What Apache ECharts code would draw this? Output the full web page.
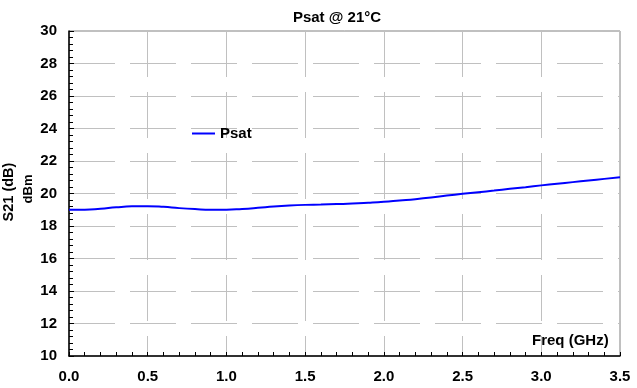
<!DOCTYPE html>
<html>
<head>
<meta charset="utf-8">
<script src="https://cdn.jsdelivr.net/npm/echarts@6/dist/echarts.min.js"></script>
<style>
    html, body { margin: 0; padding: 0; background: #fff; }
    #chart { width: 637px; height: 388px; }
</style>
</head>
<body>
<div id="chart"></div>
<script>
// Psat vs frequency (GHz, dBm)
var freq = [0.0, 0.1, 0.2, 0.3, 0.4, 0.5, 0.6, 0.7, 0.8, 0.9, 1.0, 1.1, 1.2, 1.3, 1.4, 1.5, 1.6, 1.7,
    1.8, 1.9, 2.0, 2.1, 2.2, 2.3, 2.4, 2.5, 2.6, 2.7, 2.8, 2.9, 3.0, 3.1, 3.2, 3.3, 3.4, 3.5];
var psat = [19.0, 19.0, 19.06, 19.15, 19.21, 19.22, 19.18, 19.1, 19.04, 19.0, 19.0, 19.05, 19.12, 19.2, 19.26, 19.3, 19.32, 19.35,
    19.38, 19.43, 19.49, 19.57, 19.65, 19.75, 19.87, 19.98, 20.08, 20.18, 20.29, 20.39, 20.5, 20.6, 20.7, 20.8, 20.9, 21.0];

var xTicks = [0, 0.5, 1.0, 1.5, 2.0, 2.5, 3.0, 3.5];
var yTicks = [10, 12, 14, 16, 18, 20, 22, 24, 26, 28, 30];

var font = 'Liberation Sans, Arial, sans-serif';

var chart = echarts.init(document.getElementById('chart'));

var points = freq.map(function (f, i) { return [f, psat[i]]; });

var gridDash = [46, 15];

option = {
    animation: false,
    backgroundColor: '#fff',
    textStyle: { fontFamily: font },
    title: {
        text: 'Psat @ 21°C',
        left: 332,
        top: 5,
        textAlign: 'center',
        textStyle: { fontFamily: font, fontWeight: 'bold', fontSize: 15, color: '#000' }
    },
    legend: {
        data: ['Psat'],
        left: 187,
        top: 121,
        icon: 'rect',
        itemWidth: 23,
        itemHeight: 2,
        textStyle: { fontFamily: font, fontWeight: 'bold', fontSize: 15, color: '#000' }
    },
    grid: {
        left: 69,
        right: 17,
        top: 31,
        bottom: 32,
        show: true,
        borderColor: '#808080',
        borderWidth: 1
    },
    xAxis: {
        type: 'value',
        min: xTicks[0],
        max: xTicks[xTicks.length - 1],
        interval: 0.5,
        axisLine: { show: true, onZero: false, lineStyle: { color: '#000', width: 1.5 } },
        axisTick: { show: true, inside: true, length: 4, lineStyle: { color: '#000' } },
        minorTick: { show: true, splitNumber: 5, length: 4, lineStyle: { color: '#000' } },
        axisLabel: {
            margin: 13,
            fontFamily: font, fontWeight: 'bold', fontSize: 15, color: '#000',
            formatter: function (v) { return v.toFixed(1); }
        },
        splitLine: { show: true, lineStyle: { color: '#c0c0c0', type: gridDash } }
    },
    yAxis: {
        type: 'value',
        min: yTicks[0],
        max: yTicks[yTicks.length - 1],
        interval: 2,
        axisLine: { show: true, onZero: false, lineStyle: { color: '#000', width: 1.5 } },
        axisTick: { show: true, inside: true, length: 5, lineStyle: { color: '#000' } },
        minorTick: { show: true, splitNumber: 5, length: 4, lineStyle: { color: '#000' } },
        axisLabel: {
            margin: 12,
            fontFamily: font, fontWeight: 'bold', fontSize: 15, color: '#000'
        },
        splitLine: { show: true, lineStyle: { color: '#c0c0c0', type: gridDash } }
    },
    graphic: [{
        type: 'text',
        left: 532,
        top: 333,
        style: { text: 'Freq (GHz)', font: 'bold 15px ' + font, fill: '#000' }
    }, {
        type: 'text',
        x: 9,
        y: 192,
        rotation: Math.PI / 2,
        style: { text: 'S21 (dB)', font: 'bold 14.5px ' + font, fill: '#000', align: 'center', verticalAlign: 'middle' }
    }, {
        type: 'text',
        x: 28,
        y: 189,
        rotation: Math.PI / 2,
        style: { text: 'dBm', font: 'bold 13px ' + font, fill: '#000', align: 'center', verticalAlign: 'middle' }
    }],
    series: [{
        name: 'Psat',
        type: 'line',
        data: points,
        smooth: true,
        showSymbol: false,
        lineStyle: { color: '#0000ff', width: 2 },
        itemStyle: { color: '#0000ff' }
    }]
};

chart.setOption(option);
</script>
</body>
</html>
